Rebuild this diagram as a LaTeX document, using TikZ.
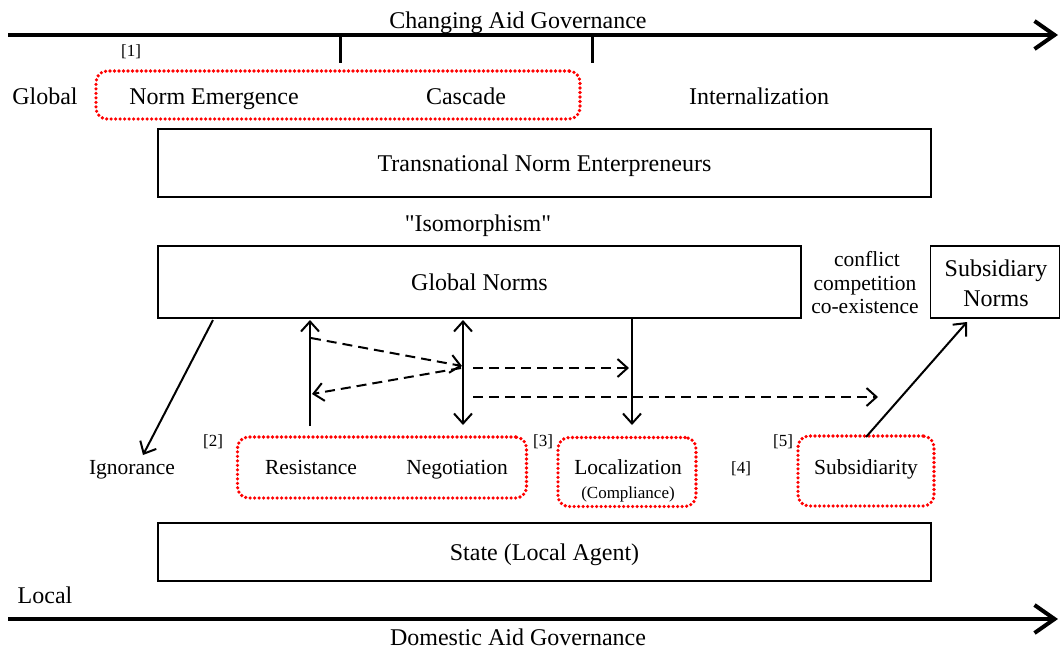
\documentclass[tikz,border=0pt]{standalone}
\usepackage{fontspec}
\setmainfont{Liberation Serif}
% same face without the TeX quote ligatures, for straight double quotes
\newfontfamily\rawserif{Liberation Serif}
\usetikzlibrary{arrows.meta}
\begin{document}
\begin{tikzpicture}[x=1pt,y=-1pt,
  big/.style={font=\fontsize{24}{27}\selectfont, inner sep=0pt, text height=17pt, text depth=0pt},
  mid/.style={font=\fontsize{21.5}{24}\selectfont, inner sep=0pt, text height=15pt, text depth=0pt},
  small/.style={font=\fontsize{17}{19}\selectfont, inner sep=0pt, text height=12pt, text depth=0pt},
  plainbox/.style={draw, line width=1.4pt, inner sep=0pt, text height=17pt, text depth=0pt,
    font=\fontsize{24}{27}\selectfont},
  redbox/.style={draw=red, line width=3.6pt, dash pattern=on 0pt off 4.5pt,
    line cap=round, rounded corners=11pt, inner sep=0pt},
  axis/.style={line width=4pt, -{Straight Barb[length=20pt,width=28pt]}},
  tickline/.style={line width=3pt},
  arr/.style={line width=2pt, -{Straight Barb[length=10pt,width=18pt]}},
  darr/.style={line width=2pt, {Straight Barb[length=10pt,width=18pt]}-{Straight Barb[length=10pt,width=18pt]}},
  dasharr/.style={line width=2pt, dash pattern=on 10pt off 6pt,
    -{Straight Barb[length=10pt,width=18pt]}},
]
\useasboundingbox (0,0) rectangle (1060,649);

% time axes
\coordinate (ta0) at (8,35);
\coordinate (ta1) at (1058,35);
\draw[axis] (ta0) -- (ta1);
\node[big] (tatxt) at (518,20) {Changing Aid Governance};
\coordinate (t1a) at (340,35); \coordinate (t1b) at (340,63);
\coordinate (t2a) at (592,35); \coordinate (t2b) at (592,63);
\draw[tickline] (t1a) -- (t1b);
\draw[tickline] (t2a) -- (t2b);

\coordinate (ba0) at (8,619);
\coordinate (ba1) at (1058,619);
\draw[axis] (ba0) -- (ba1);
\node[big] (batxt) at (518,637) {Domestic Aid Governance};

% global level
\node[big] (global) at (45,96) {Global};
\node[small] (n1) at (131,50) {[1]};
\node[redbox, minimum width=484pt, minimum height=48pt] (stage) at (338,95) {};
\node[big] (emerge) at (214,96) {Norm Emergence};
\node[big] (cascade) at (466,96) {Cascade};
\node[big] (intern) at (759,96) {Internalization};

\node[plainbox, minimum width=773pt, minimum height=68pt] (tne) at (544.5,163)
  {Transnational Norm Enterpreneurs};
\node[big] (iso) at (478,223) {\rawserif "Isomorphism"};

\node[plainbox, minimum width=643pt, minimum height=72pt] (gn) at (479.5,282)
  {Global Norms};
\node[plainbox, minimum width=129pt, minimum height=72pt] (sub) at (995,282) {};
\node[big] (subA) at (996,268) {Subsidiary};
\node[big] (subB) at (996,298) {Norms};
\node[mid] (cf1) at (867,259) {conflict};
\node[mid] (cf2) at (865,283) {competition};
\node[mid] (cf3) at (865,306) {co-existence};

% local responses
\node[mid] (ign) at (132,467) {Ignorance};
\node[small] (n2) at (213,440) {[2]};
\node[redbox, minimum width=289pt, minimum height=61pt] (rn) at (382,467.5) {};
\node[mid] (res) at (311,467) {Resistance};
\node[mid] (neg) at (457,467) {Negotiation};
\node[small] (n3) at (543,440) {[3]};
\node[redbox, minimum width=138pt, minimum height=69pt] (loc) at (627,472) {};
\node[mid] (loct) at (628,467) {Localization};
\node[small] (comp) at (628,492) {(Compliance)};
\node[small] (n4) at (741,467) {[4]};
\node[small] (n5) at (783,440) {[5]};
\node[redbox, minimum width=136pt, minimum height=70pt] (sbd) at (866,471) {};
\node[mid] (sbdt) at (866,467) {Subsidiarity};

\node[plainbox, minimum width=773pt, minimum height=58pt] (state) at (544.5,552)
  {State (Local Agent)};
\node[big] (local) at (45,595) {Local};

% connectors
\coordinate (ig0) at (213,320); \coordinate (ig1) at (143,455);
\draw[arr] (ig0) -- (ig1);
\coordinate (r0) at (310,426); \coordinate (r1) at (310,320);
\draw[arr] (r0) -- (r1);
\coordinate (g0) at (463,320); \coordinate (g1) at (463,425);
\draw[darr] (g0) -- (g1);
\coordinate (l0) at (632,318); \coordinate (l1) at (632,425);
\draw[arr] (l0) -- (l1);
\coordinate (d1a) at (311,338); \coordinate (d1b) at (462,366);
\draw[dasharr] (d1a) -- (d1b);
\coordinate (d2a) at (461,368); \coordinate (d2b) at (312,394);
\draw[dasharr] (d2a) -- (d2b);
\coordinate (d3a) at (473,368); \coordinate (d3b) at (629,368);
\draw[dasharr] (d3a) -- (d3b);
\coordinate (d4a) at (473,397); \coordinate (d4b) at (878,397);
\draw[dasharr] (d4a) -- (d4b);
\coordinate (s0) at (866,437); \coordinate (s1) at (967,322);
\draw[arr] (s0) -- (s1);
\end{tikzpicture}
\end{document}
